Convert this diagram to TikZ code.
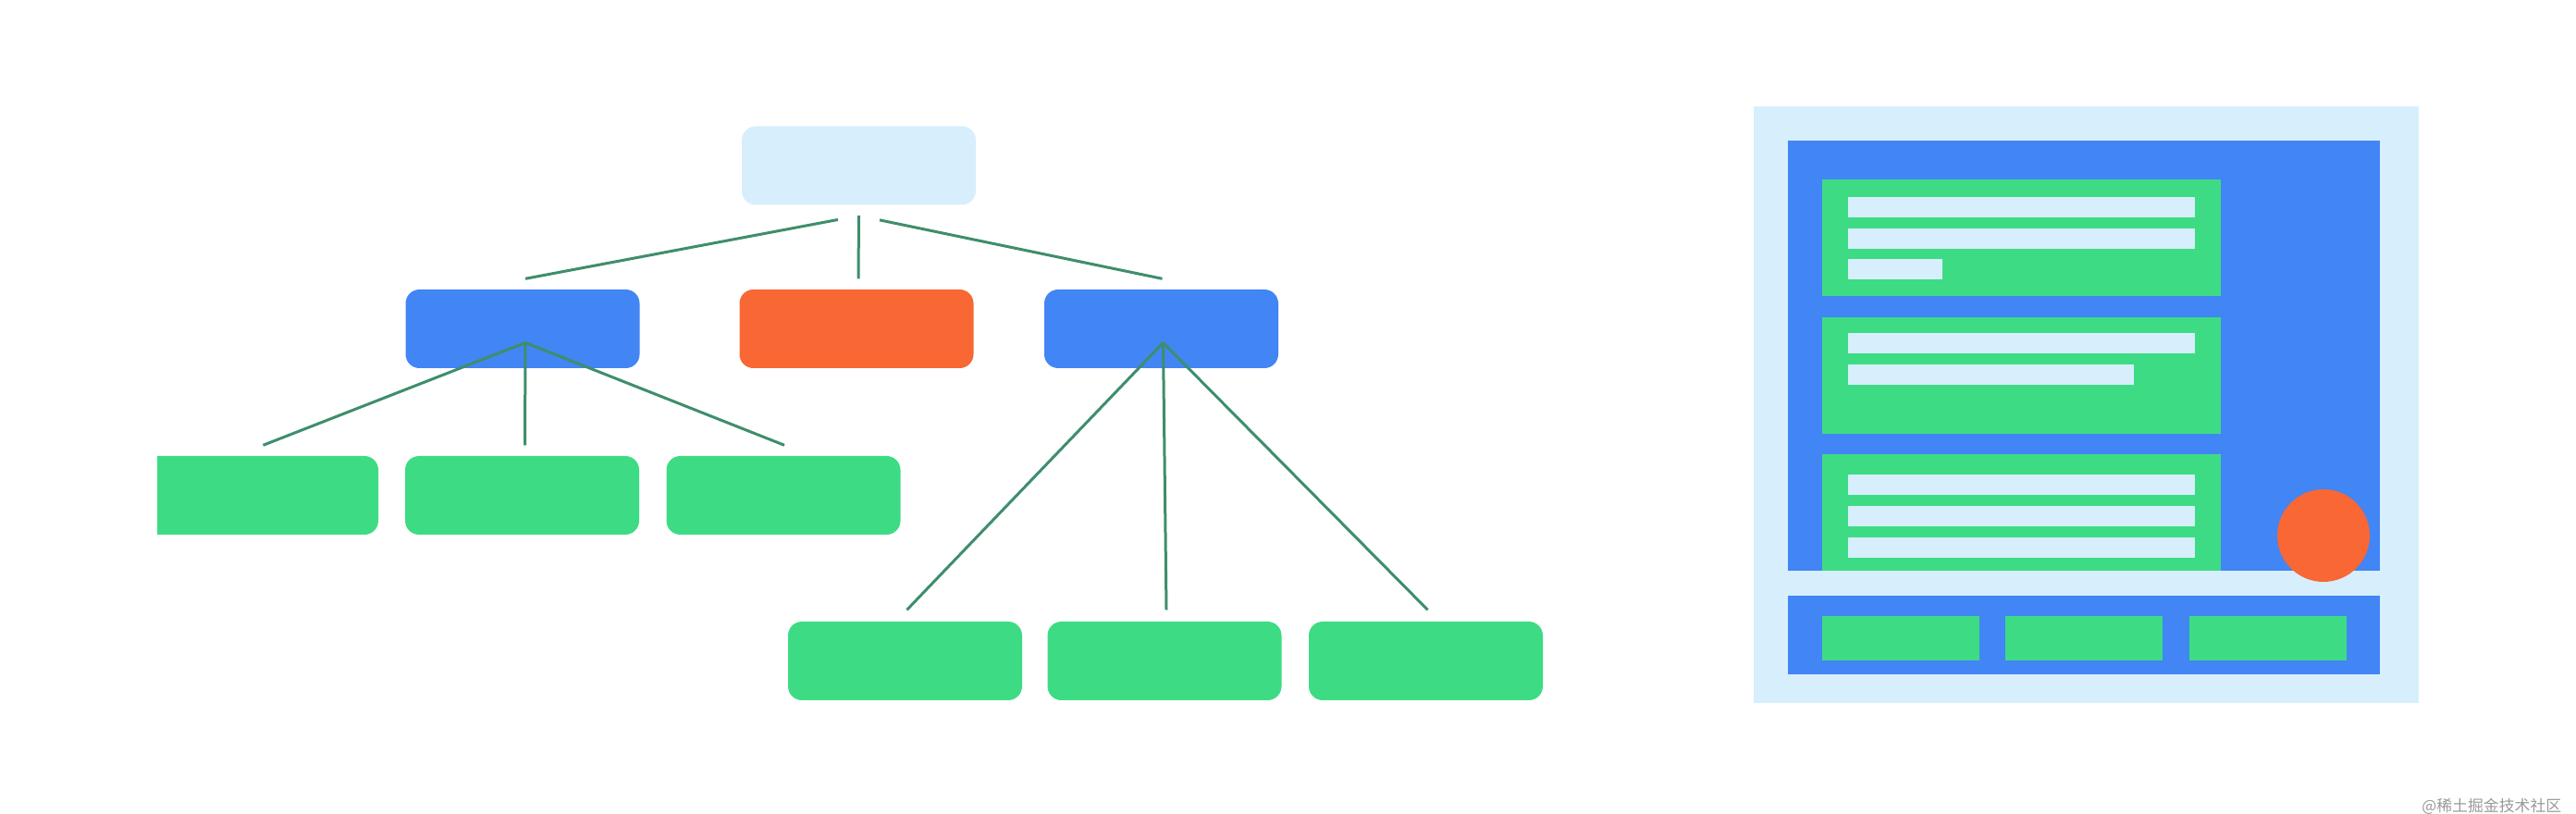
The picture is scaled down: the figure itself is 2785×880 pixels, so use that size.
\documentclass[tikz,border=0pt]{standalone}
\usepackage{fontspec}
\newfontfamily\cjk{Noto Sans CJK SC}
\usetikzlibrary{calc}
\definecolor{paleblue}{HTML}{D7EEFD}
\definecolor{gblue}{HTML}{4285F4}
\definecolor{gorange}{HTML}{F86734}
\definecolor{dgreen}{HTML}{3DDC84}
\definecolor{linkgreen}{HTML}{3E8E6B}
\tikzset{
  box/.style={rounded corners=1.5mm, minimum width=25.3mm, minimum height=8.5mm, inner sep=0pt},
  link/.style={draw=linkgreen, line width=0.3mm},
}
\begin{document}
\begin{tikzpicture}[x=0.1mm, y=-0.1mm]
                \useasboundingbox (0,0) rectangle (2785,880);
                \node[box, fill=paleblue] (root) at (928.5,179) {};
                \node[box, fill=gblue] (listA) at (565,355.5) {};
                \node[box, fill=gorange] (item) at (926,355.5) {};
                \node[box, fill=gblue] (listB) at (1255.5,355.5) {};
                \begin{scope}
                    \clip (170,480) rectangle (1000,600);
                    \node[box, fill=dgreen] (a1) at (282.5,535.5) {};
                \end{scope}
                \node[box, fill=dgreen] (a2) at (564.5,535.5) {};
                \node[box, fill=dgreen] (a3) at (847,535.5) {};
                \node[box, fill=dgreen] (b1) at (978.5,714.5) {};
                \node[box, fill=dgreen] (b2) at (1259,714.5) {};
                \node[box, fill=dgreen] (b3) at (1541.5,714.5) {};
                \coordinate (rootfork) at ($(root.south)+(0,11)$);
                \coordinate (forkA) at ($(listA.center)+(3,15)$);
                \coordinate (forkB) at ($(listB.center)+(2,15)$);
                \foreach \c/\s/\dx in {listA/2.3mm/3, item/0mm/2, listB/2.3mm/1}
                    \draw[link, shorten <=\s] (rootfork) -- ($(\c.north)+(\dx,-11)$);
                \foreach \c/\dx in {a1/2, a2/3, a3/1}
                    \draw[link] (forkA) -- ($(\c.north)+(\dx,-11)$);
                \foreach \c in {b1, b2, b3}
                    \draw[link] (forkB) -- ($(\c.north)+(2,-12)$);
                \fill[paleblue] (1896,115) rectangle (2615,760);
                \fill[gblue] (1933,152) rectangle (2573,617);
                \foreach \y in {194,343,491}
                    \fill[dgreen] (1970,\y) rectangle (2401,\y+126);
                \foreach \y/\r in {213/2373, 247/2373, 280/2100, 360/2373, 394/2307, 513/2373, 547/2373, 581/2373}
                    \fill[paleblue] (1998,\y) rectangle (\r,\y+22);
                \fill[gorange] (2512,579) circle (5mm);
                \fill[gblue] (1933,644) rectangle (2573,729);
                \foreach \x in {1970,2168,2367}
                    \fill[dgreen] (\x,666) rectangle (\x+170,714);
                \node[text=black!40, font=\cjk\fontsize{4.8}{5}\selectfont, anchor=east, inner sep=0pt] (mark) at (2770,872) {@稀土掘金技术社区};
            \end{tikzpicture}
\end{document}
